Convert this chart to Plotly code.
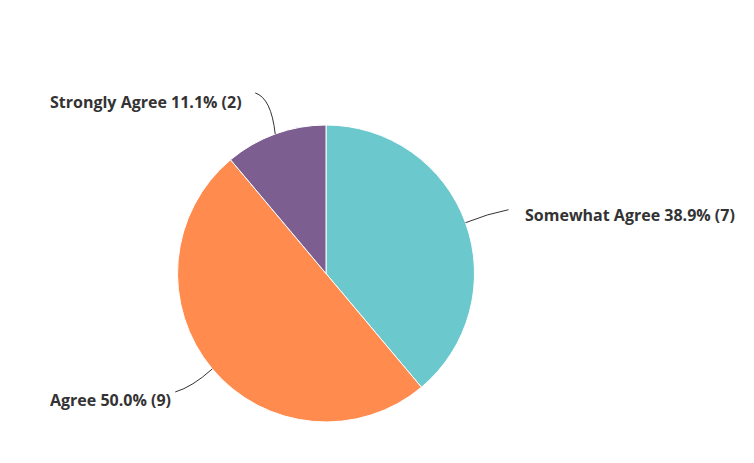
import math
import plotly.graph_objects as go

labels = ["Somewhat Agree", "Agree", "Strongly Agree"]
counts = [7, 9, 2]
colors = ["#6BC8CD", "#FF8B4F", "#7D5E90"]

W, H = 754, 463
OFF = 8  # page body margin
CX, CY, R = 326 - OFF, 273.5 - OFF, 148.5

total = sum(counts)
fig = go.Figure(go.Pie(
    labels=labels, values=counts, sort=False, direction="clockwise", rotation=0,
    marker=dict(colors=colors, line=dict(color="white", width=1)),
    textinfo="none", showlegend=False, hole=0,
    domain=dict(x=[(CX - R) / W, (CX + R) / W], y=[(H - CY - R) / H, (H - CY + R) / H]),
))

def px(x, y):
    return x / W, 1 - y / H

# label placement (offsets relative to slice edge point): (end dx, end dy, ctrl dx, ctrl dy, text x, text y, anchor)
place = {
    "Somewhat Agree": (43, -13, 22, -9, 523, 215, "left"),
    "Agree": (-37, 23, -20, 18, 173, 400, "right"),
    "Strongly Agree": (-20, -41, -4, -36, 244, 102, "right"),
}

shapes, annotations = [], []
cum = 0
for lab, c in zip(labels, counts):
    mid = (cum + c / 2) / total * 2 * math.pi
    cum += c
    x0 = CX + R * math.sin(mid)
    y0 = CY - R * math.cos(mid)
    ex, ey, qx, qy, tx, ty, anc = place[lab]
    x1, y1 = x0 + ex, y0 + ey
    cx, cy = x0 + qx, y0 + qy
    a, b = px(x0, y0); e, f = px(x1, y1); g, h = px(cx, cy)
    shapes.append(dict(type="path", xref="paper", yref="paper",
                       path=f"M {a},{b} Q {g},{h} {e},{f}",
                       line=dict(color="#333333", width=1)))
    pct = c / total * 100
    tpx, tpy = px(tx - OFF, ty - OFF)
    annotations.append(dict(x=tpx, y=tpy, xref="paper", yref="paper", showarrow=False,
                            xanchor=anc, yanchor="middle",
                            text=f"{lab} {pct:.1f}% ({c})",
                            font=dict(family="Open Sans", size=16, color="#333333", weight=700)))

fig.update_layout(width=W, height=H, margin=dict(l=0, r=0, t=0, b=0),
                  paper_bgcolor="white", plot_bgcolor="white",
                  shapes=shapes, annotations=annotations)
fig.write_html("out.html")
